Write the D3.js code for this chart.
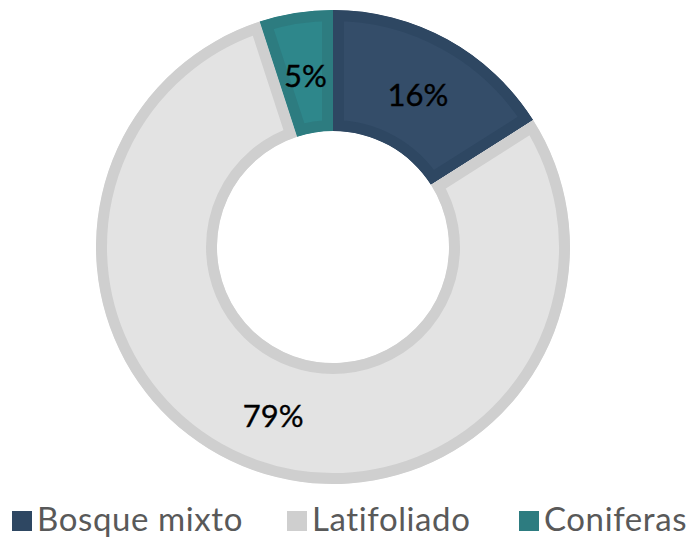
<!DOCTYPE html>
<html>
<head>
<meta charset="utf-8">
<script src="https://cdn.jsdelivr.net/npm/d3@7"></script>
<style>
  body { margin: 0; background: #fff; }
  svg text { font-family: Lato, "Noto Sans", sans-serif; }
</style>
</head>
<body>
<div id="myChart"></div>
<script>
// data
let categories = ["Bosque mixto", "Latifoliado", "Coniferas"];
let values = [16, 79, 5];
let fills = ["#344d69", "#e3e3e3", "#2e878b"];
let borders = ["#2e4762", "#cfcfcf", "#2d7c80"];

let width = 691, height = 538;
let cx = 333, cy = 247;
let outerR = 237, innerR = 116;
let border = 11;

let svg = d3.select("#myChart")
    .append("svg")
        .attr("width", width)
        .attr("height", height);

let pie = d3.pie().sort(null).value(d => d.value);
let arc = d3.arc().innerRadius(innerR).outerRadius(outerR);

let data = categories.map((c, i) => ({name: c, value: values[i], i: i}));
let arcs = pie(data);
let total = d3.sum(values);

let g = svg.append("g")
    .attr("transform", "translate(" + cx + "," + cy + ")");

// clip paths so each slice's border sits inside the slice
let defs = svg.append("defs");
defs.selectAll("clipPath")
    .data(arcs)
    .enter()
    .append("clipPath")
        .attr("id", d => "clip" + d.data.i)
    .append("path")
        .attr("d", arc);

g.selectAll("path.slice")
    .data(arcs)
    .enter()
    .append("path")
        .attr("class", "slice")
        .attr("d", arc)
        .attr("clip-path", d => "url(#clip" + d.data.i + ")")
        .style("fill", d => fills[d.data.i])
        .style("stroke", d => borders[d.data.i])
        .style("stroke-width", border * 2);

// labels
g.selectAll("text.lbl")
    .data(arcs)
    .enter()
    .append("text")
        .attr("class", "lbl")
        .attr("x", d => arc.centroid(d)[0])
        .attr("y", d => arc.centroid(d)[1] + 2)
        .attr("text-anchor", "middle")
        .attr("dominant-baseline", "central")
        .style("font-size", "31px")
        .style("fill", "#000")
        .style("stroke", "#000")
        .style("stroke-width", 0.35)
        .text(d => Math.round(d.data.value / total * 100) + "%");

// legend
let legendX = [12, 287, 519];
let legend = svg.append("g")
    .selectAll("g")
    .data(categories)
    .enter()
    .append("g")
        .attr("transform", (d, i) => "translate(" + legendX[i] + ",511)");

legend.append("rect")
    .attr("width", 20)
    .attr("height", 20)
    .style("fill", (d, i) => borders[i]);

legend.append("text")
    .attr("x", 25)
    .attr("y", 20)
    .style("font-size", "33px")
    .style("letter-spacing", "0.6px")
    .style("fill", "#595959")
    .text(d => d);
</script>
</body>
</html>
